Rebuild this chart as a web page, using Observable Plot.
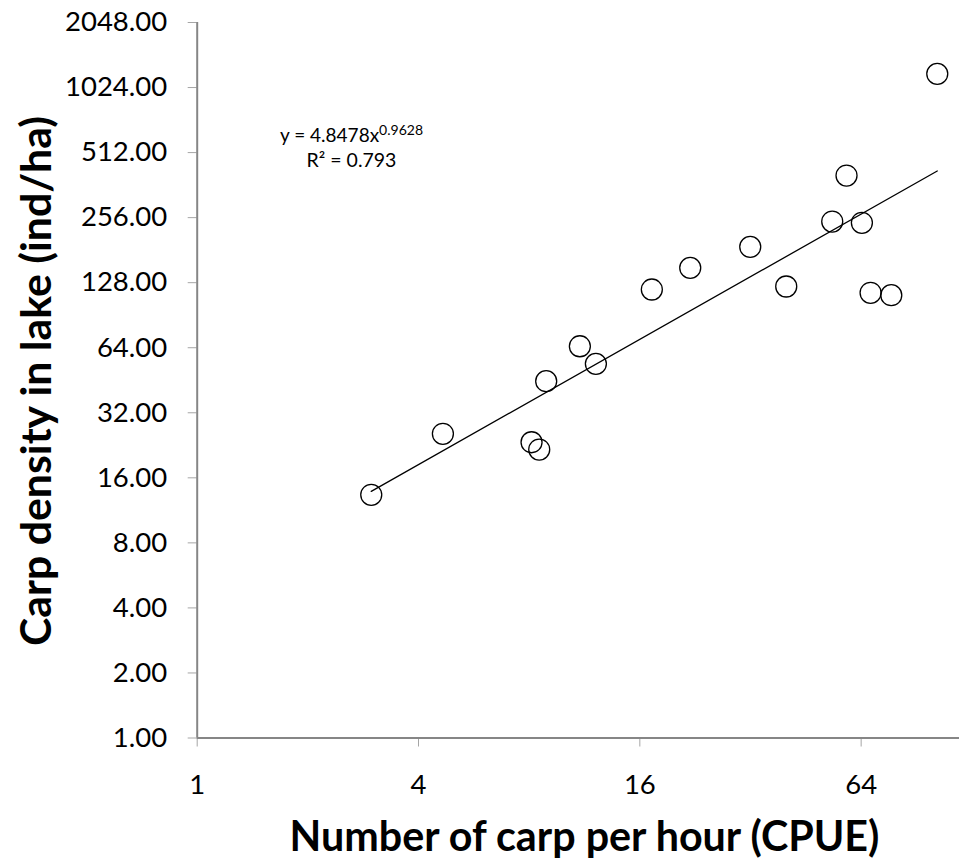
<!DOCTYPE html>
<html>
<head>
<meta charset="utf-8">
<script src="https://cdn.jsdelivr.net/npm/d3@7"></script>
<script src="https://cdn.jsdelivr.net/npm/@observablehq/plot@0.6"></script>
<style>
  html, body { margin: 0; padding: 0; background: #fff; overflow: hidden; }
  #chart svg { display: block; }
</style>
</head>
<body>
<div id="chart"></div>
<script>
// ---- Data ----
const cpue    = [2.975, 4.66, 8.12, 8.52, 8.90, 10.99, 12.15, 17.25, 21.94, 31.95, 40.03, 53.4, 58.4, 64.3, 67.9, 77.3, 103.1];
const density = [13.35, 25.57, 23.38, 21.63, 44.8, 65.0, 53.9, 119.0, 149.9, 187.5, 122.9, 245.6, 400.9, 242.2, 114.9, 112.0, 1185];
const xTicks = [1, 4, 16, 64];
const yTicks = [1, 2, 4, 8, 16, 32, 64, 128, 256, 512, 1024, 2048];
const fitCoef = 4.8478;
const fitExp = 0.9628;
const fitR2 = "0.793";
const xTitle = "Number of carp per hour (CPUE)";
const yTitle = "Carp density in lake (ind/ha)";

const points = cpue.map((x, i) => ({x, y: density[i]}));
const trend = [d3.min(cpue), d3.max(cpue)].map(x => ({x, y: fitCoef * Math.pow(x, fitExp)}));

const FONT = "Lato, 'Open Sans', sans-serif";
const axisGray = "#868686";
const tickGray = "#a6a6a6";

const svg = Plot.plot({
  width: 959,
  height: 861,
  marginLeft: 196.7,
  marginRight: 0,
  marginTop: 22,
  marginBottom: 123.5,
  style: {fontFamily: FONT, fontSize: "27.5px", color: "black", background: "white"},
  x: {type: "log", base: 2, domain: [1, 128], range: [196.7, 971.3]},
  y: {type: "log", base: 2, domain: [1, 2048], range: [737.5, 22]},
  marks: [
    Plot.axisX({ticks: xTicks, tickSize: 9, tickPadding: 27, tickFormat: d => String(d),
                label: null, stroke: tickGray, fill: "black", fontSize: 27.5}),
    Plot.axisY({ticks: yTicks, tickSize: 9, tickPadding: 21, tickFormat: d => d.toFixed(2),
                label: null, stroke: tickGray, fill: "black", fontSize: 27.5}),
    Plot.ruleY([1], {stroke: axisGray, strokeWidth: 2}),
    Plot.ruleX([1], {stroke: axisGray, strokeWidth: 2}),
    Plot.line(trend, {x: "x", y: "y", stroke: "black", strokeWidth: 1.3}),
    Plot.dot(points, {x: "x", y: "y", r: 10.5, stroke: "black", strokeWidth: 1.3, fill: "none"})
  ]
});
document.getElementById("chart").append(svg);

const s = d3.select(svg);

// Axis titles
function fit(sel, target) {
  const node = sel.node();
  const len = node.getComputedTextLength();
  const fs = parseFloat(sel.attr("font-size"));
  if (len > 0) sel.attr("font-size", (fs * target / len).toFixed(2));
}

const xt = s.append("text")
  .attr("x", 584.5).attr("y", 851)
  .attr("text-anchor", "middle")
  .attr("font-family", FONT).attr("font-weight", "bold")
  .attr("font-size", 40).attr("fill", "black")
  .text(xTitle);
fit(xt, 590);

const yt = s.append("text")
  .attr("transform", "translate(51,381) rotate(-90)")
  .attr("text-anchor", "middle")
  .attr("font-family", FONT).attr("font-weight", "bold")
  .attr("font-size", 40).attr("fill", "black")
  .text(yTitle);
fit(yt, 530);

// Trend-line equation
const eq = s.append("text")
  .attr("x", 351.5).attr("y", 141.7)
  .attr("text-anchor", "middle")
  .attr("font-family", FONT).attr("font-size", 19).attr("fill", "black");
eq.append("tspan").text(`y = ${fitCoef}x`);
eq.append("tspan").attr("font-size", 14).attr("dy", -7).text(String(fitExp));

s.append("text")
  .attr("x", 351.5).attr("y", 166.7)
  .attr("text-anchor", "middle")
  .attr("font-family", FONT).attr("font-size", 19.5).attr("fill", "black")
  .text(`R² = ${fitR2}`);
</script>
</body>
</html>
